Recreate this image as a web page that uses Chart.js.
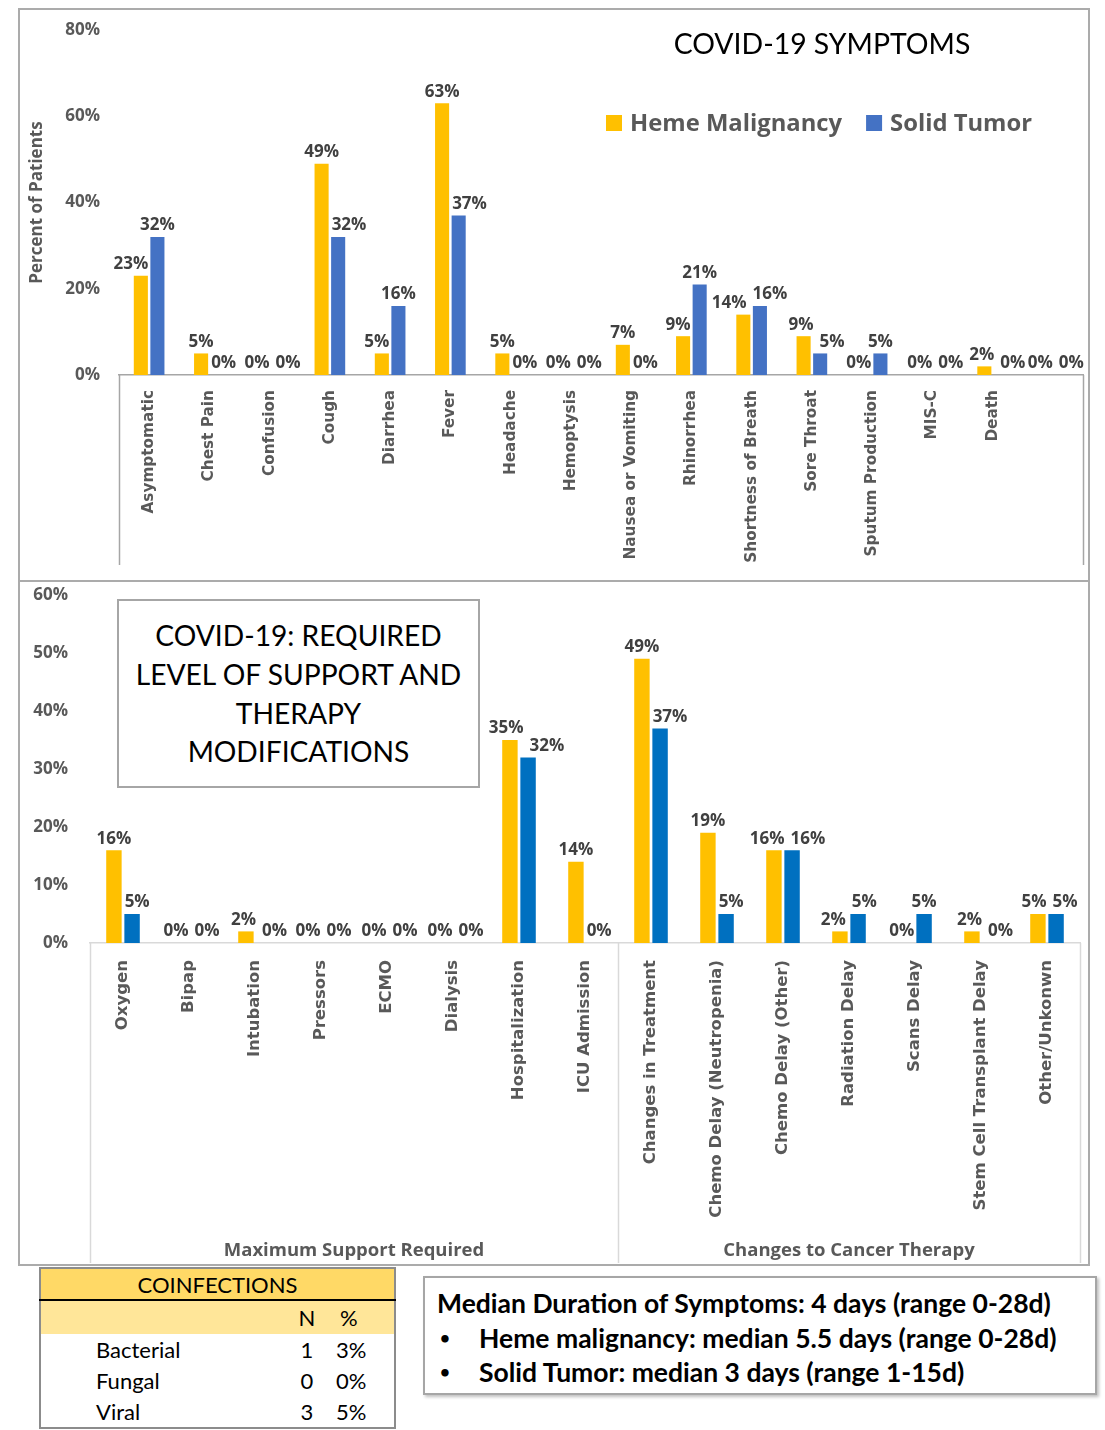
<!DOCTYPE html>
<html>
<head>
<meta charset="utf-8">
<script src="https://cdn.jsdelivr.net/npm/chart.js@4.4.1/dist/chart.umd.min.js"></script>
<style>
  body { margin: 0; width: 1105px; height: 1430px; background: #fff; position: relative; font-family: Lato, sans-serif; overflow: hidden; }
  .box { position: absolute; box-sizing: border-box; border: 2px solid #ababab; background: #fff; }
  #topBox { left: 18px; top: 8px; width: 1072px; height: 574px; }
  #bottomBox { left: 18px; top: 580px; width: 1072px; height: 686px; }
  canvas { position: absolute; }
  #topChart { left: 20px; top: 10px; }
  #bottomChart { left: 20px; top: 582px; }
  #topTitle { position: absolute; left: 572px; top: 26px; width: 500px; text-align: center; font-size: 28.4px; line-height: 34px; color: #000; }
  #supportTitle { position: absolute; left: 117px; top: 599px; width: 363px; height: 189px; box-sizing: border-box;
    border: 2px solid #a6a6a6; background: #fff; display: flex; align-items: center; justify-content: center;
    text-align: center; font-size: 28.2px; line-height: 38.7px; color: #000; }
  #coinf { position: absolute; left: 39px; top: 1267px; width: 357px; height: 162px; box-sizing: border-box;
    border: 2px solid #8c8c8c; border-collapse: collapse; font-size: 22px; color: #000; table-layout: fixed; }
  #coinf td { padding: 0; }
  #coinf .head td { background: #ffd966; height: 30px; text-align: center; border-bottom: 2px solid #000; }
  #coinf .sub td { background: #ffe699; height: 33px; }
  #coinf .row td { height: 31px; }
  #median { position: absolute; left: 423px; top: 1276px; width: 674px; height: 119px; box-sizing: border-box;
    border: 2px solid #a6a6a6; box-shadow: 2px 2px 3px rgba(0,0,0,0.25); background: #fff;
    font-weight: bold; font-size: 26.5px; color: #000; padding: 8px 0 0 12px; line-height: 34.5px; white-space: nowrap; }
  #median .b { position: relative; padding-left: 42px; }
  #median .b::before { content: "\2022"; position: absolute; left: 3px; font-size: 17px; }
</style>
</head>
<body>
<div class="box" id="topBox"></div>
<div class="box" id="bottomBox"></div>
<canvas id="topChart" width="1068" height="570"></canvas>
<canvas id="bottomChart" width="1068" height="682"></canvas>
<div id="topTitle">COVID-19 SYMPTOMS</div>
<div id="supportTitle">COVID-19: REQUIRED<br>LEVEL OF SUPPORT AND<br>THERAPY<br>MODIFICATIONS</div>

<table id="coinf">
  <colgroup><col style="width:255px"><col style="width:24px"><col></colgroup>
  <tr class="head"><td colspan="3">COINFECTIONS</td></tr>
  <tr class="sub"><td></td><td style="text-align:center">N</td><td style="padding-left:21px">%</td></tr>
  <tr class="row"><td style="padding-left:55px">Bacterial</td><td style="text-align:center">1</td><td style="padding-left:17px">3%</td></tr>
  <tr class="row"><td style="padding-left:55px">Fungal</td><td style="text-align:center">0</td><td style="padding-left:17px">0%</td></tr>
  <tr class="row"><td style="padding-left:55px">Viral</td><td style="text-align:center">3</td><td style="padding-left:17px">5%</td></tr>
</table>

<div id="median">
  <div>Median Duration of Symptoms: 4 days (range 0-28d)</div>
  <div class="b">Heme malignancy: median 5.5 days (range 0-28d)</div>
  <div class="b">Solid Tumor: median 3 days (range 1-15d)</div>
</div>

<script>
// symptoms chart
const symptoms = ["Asymptomatic", "Chest Pain", "Confusion", "Cough", "Diarrhea", "Fever", "Headache",
  "Hemoptysis", "Nausea or Vomiting", "Rhinorrhea", "Shortness of Breath", "Sore Throat",
  "Sputum Production", "MIS-C", "Death", ""];
const symptomsHeme = [23, 5, 0, 49, 5, 63, 5, 0, 7, 9, 14, 9, 0, 0, 2, 0];
const symptomsSolid = [32, 0, 0, 32, 16, 37, 0, 0, 0, 21, 16, 5, 5, 0, 0, 0];
const symptomsTicks = [0, 20, 40, 60, 80];

// support / therapy chart
const support = ["Oxygen", "Bipap", "Intubation", "Pressors", "ECMO", "Dialysis", "Hospitalization",
  "ICU Admission", "Changes in Treatment", "Chemo Delay (Neutropenia)", "Chemo Delay (Other)",
  "Radiation Delay", "Scans Delay", "Stem Cell Transplant Delay", "Other/Unkonwn"];
const supportHeme = [16, 0, 2, 0, 0, 0, 35, 14, 49, 19, 16, 2, 0, 2, 5];
const supportSolid = [5, 0, 0, 0, 0, 0, 32, 0, 37, 5, 16, 5, 5, 0, 5];
const supportTicks = [0, 10, 20, 30, 40, 50, 60];
const supportGroups = ["Maximum Support Required", "Changes to Cancer Therapy"];
const supportGroupSizes = [8, 7];

const seriesNames = ["Heme Malignancy", "Solid Tumor"];

const gray = "#595959";

// value labels above the bars, nudged sideways so they don't sit on the other bar / label
const valueLabels = {
  id: "valueLabels",
  afterDatasetsDraw(chart) {
    const ctx = chart.ctx;
    ctx.save();
    ctx.font = "bold 17px 'Open Sans'";
    ctx.fillStyle = "#404040";
    ctx.textAlign = "center";
    ctx.textBaseline = "bottom";
    const bars0 = chart.getDatasetMeta(0).data;
    const bars1 = chart.getDatasetMeta(1).data;
    const vals0 = chart.data.datasets[0].data;
    const vals1 = chart.data.datasets[1].data;
    bars0.forEach((b0, j) => {
      const b1 = bars1[j];
      const t0 = vals0[j] + "%";
      const t1 = vals1[j] + "%";
      const w0 = ctx.measureText(t0).width;
      const w1 = ctx.measureText(t1).width;
      let x0 = b0.x, x1 = b1.x;
      // lower label running into the taller bar
      if (b1.y < b0.y - 3 && x0 + w0 / 2 > b1.x - b1.width / 2 - 2) {
        x0 = b1.x - b1.width / 2 - 2 - w0 / 2;
      }
      if (b0.y < b1.y - 3 && x1 - w1 / 2 < b0.x + b0.width / 2 + 3) {
        x1 = b0.x + b0.width / 2 + 3 + w1 / 2;
      }
      // labels at about the same height
      if (Math.abs(b0.y - b1.y) < 19) {
        const need = (w0 + w1) / 2 + 6;
        const gap = need - (x1 - x0);
        if (gap > 0) { x0 -= gap * 0.3; x1 += gap * 0.7; }
      }
      ctx.fillText(t0, x0, b0.y - 3);
      ctx.fillText(t1, x1, b1.y - 3);
    });
    ctx.restore();
  }
};

// category group separators + group names
const groupLines = {
  id: "groupLines",
  afterDraw(chart, args, opts) {
    const { ctx, chartArea } = chart;
    const x = chart.scales.x;
    const count = chart.data.labels.length;
    const edge = (idx) => {
      if (idx <= 0) return chartArea.left;
      if (idx >= count) return chartArea.right;
      return (x.getPixelForValue(idx - 1) + x.getPixelForValue(idx)) / 2;
    };
    ctx.save();
    ctx.strokeStyle = opts.color;
    ctx.lineWidth = 1.5;
    let idx = 0;
    const bounds = [0];
    opts.sizes.forEach((n) => { idx += n; bounds.push(idx); });
    bounds.forEach((b) => {
      const px = Math.round(edge(b)) + 0.5;
      ctx.beginPath();
      ctx.moveTo(px, chartArea.bottom);
      ctx.lineTo(px, opts.lineBottom);
      ctx.stroke();
    });
    if (opts.names) {
      ctx.font = "bold 18.5px 'Open Sans'";
      ctx.fillStyle = gray;
      ctx.textAlign = "center";
      ctx.textBaseline = "middle";
      opts.names.forEach((name, k) => {
        const cx = (edge(bounds[k]) + edge(bounds[k + 1])) / 2;
        ctx.fillText(name, cx, opts.nameY);
      });
    }
    ctx.restore();
  }
};

// legend drawn inside the plot area
const innerLegend = {
  id: "innerLegend",
  afterDraw(chart, args, opts) {
    if (!opts.show) return;
    const ctx = chart.ctx;
    ctx.save();
    ctx.font = "bold 23.8px 'Open Sans'";
    ctx.textBaseline = "middle";
    let x = opts.x;
    chart.data.datasets.forEach((ds) => {
      ctx.fillStyle = ds.backgroundColor;
      ctx.fillRect(x, opts.y - 8, 16, 16);
      ctx.fillStyle = gray;
      ctx.fillText(ds.label, x + 24, opts.y + 1);
      x += 24 + ctx.measureText(ds.label).width + 24;
    });
    ctx.restore();
  }
};

function makeChart(id, labels, heme, solid, solidColor, ticks, cfg) {
  return new Chart(document.getElementById(id), {
    type: "bar",
    data: {
      labels: labels,
      datasets: [
        { label: seriesNames[0], data: heme, backgroundColor: "#FFC000",
          categoryPercentage: 0.55, barPercentage: 0.85 },
        { label: seriesNames[1], data: solid, backgroundColor: solidColor,
          categoryPercentage: 0.55, barPercentage: 0.85 }
      ]
    },
    options: {
      responsive: false,
      animation: false,
      layout: { padding: cfg.padding },
      plugins: {
        legend: { display: false },
        tooltip: { enabled: false },
        groupLines: cfg.groups,
        innerLegend: cfg.legend
      },
      scales: {
        x: {
          grid: { display: false },
          border: { color: cfg.axisColor, width: 1.5 },
          ticks: {
            autoSkip: false, minRotation: 90, maxRotation: 90, padding: cfg.xPad,
            color: gray, font: { family: "DejaVu Sans", weight: "bold", size: cfg.xFont }
          },
          afterFit: (s) => { s.height = cfg.xHeight; }
        },
        y: {
          min: ticks[0],
          max: ticks[ticks.length - 1],
          afterBuildTicks: (s) => { s.ticks = ticks.map((v) => ({ value: v })); },
          grid: { display: false, drawTicks: false },
          border: { display: false },
          ticks: {
            padding: cfg.tickPad, color: gray,
            font: { family: "Open Sans", weight: "bold", size: 17 },
            callback: (v) => v + "%"
          },
          title: cfg.yTitle,
          afterFit: (s) => {
            s.width = cfg.yWidth;
            s.paddingTop = 0;
            s.paddingBottom = 0;
          }
        }
      }
    },
    plugins: [valueLabels, groupLines, innerLegend]
  });
}

makeChart("topChart", symptoms, symptomsHeme, symptomsSolid, "#4472C4", symptomsTicks, {
  padding: { top: 20, right: 5, left: 0, bottom: 0 },
  xHeight: 205,
  xPad: 7,
  xFont: 15.3,
  yWidth: 99,
  tickPad: 19,
  axisColor: "#a6a6a6",
  yTitle: { display: true, text: "Percent of Patients", color: gray,
    font: { family: "Open Sans", weight: "bold", size: 17 }, padding: { top: 7, bottom: 0 } },
  groups: { sizes: [symptoms.length], color: "#a6a6a6", lineBottom: 555 },
  legend: { show: true, x: 586, y: 113 }
});

makeChart("bottomChart", support, supportHeme, supportSolid, "#0070C0", supportTicks, {
  padding: { top: 13, right: 8, left: 0, bottom: 0 },
  xHeight: 321,
  xPad: 9,
  xFont: 16.5,
  yWidth: 70,
  tickPad: 22,
  axisColor: "#d9d9d9",
  yTitle: { display: false },
  groups: { sizes: supportGroupSizes, names: supportGroups, color: "#d9d9d9", lineBottom: 681, nameY: 669 },
  legend: { show: false }
});
</script>
</body>
</html>
